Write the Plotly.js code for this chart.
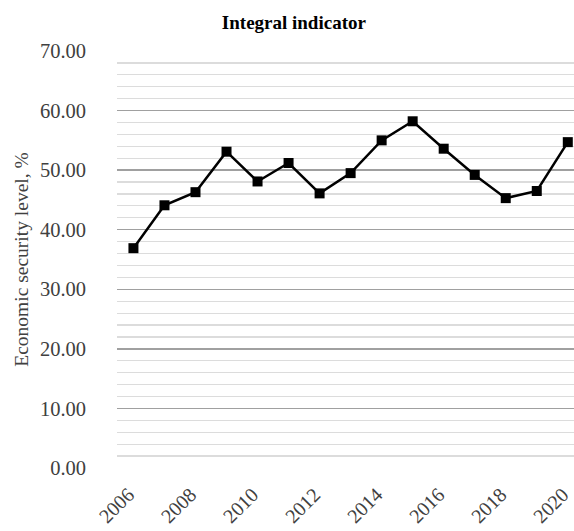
<!DOCTYPE html>
<html>
<head>
<meta charset="utf-8">
<script src="https://cdn.plot.ly/plotly-3.0.1.min.js"></script>
<style>html,body{margin:0;padding:0;background:#fff;overflow:hidden;}</style>
</head>
<body>
<div id="chart" style="width:574px;height:531px;"></div>
<script>
const years = [2006, 2007, 2008, 2009, 2010, 2011, 2012, 2013, 2014, 2015, 2016, 2017, 2018, 2019, 2020];
const integralIndicator = [36.9, 44.1, 46.3, 53.1, 48.1, 51.2, 46.1, 49.5, 55.0, 58.2, 53.6, 49.2, 45.3, 46.5, 54.7];
const xTickYears = [2006, 2008, 2010, 2012, 2014, 2016, 2018, 2020];
const xTickLabels = ["2006", "2008", "2010", "2012", "2014", "2016", "2018", "2020"];
const chartTitle = "Integral indicator";
const yTitle = "Economic security level, %";

const serif = "'Liberation Serif', 'Times New Roman', serif";

const trace = {
  x: years,
  y: integralIndicator,
  type: "scatter",
  mode: "lines+markers",
  line: {color: "#000000", width: 2.5},
  marker: {symbol: "square", size: 10, color: "#000000"},
  hoverinfo: "x+y"
};

const layout = {
  width: 574,
  height: 531,
  margin: {l: 117, r: 0, t: 51, b: 63, pad: 0},
  paper_bgcolor: "#ffffff",
  plot_bgcolor: "#ffffff",
  showlegend: false,
  title: {
    text: "<b>" + chartTitle + "</b>",
    font: {family: serif, size: 19, color: "#000000"},
    x: 0.512, xref: "container", xanchor: "center",
    y: 0.957, yref: "container", yanchor: "middle"
  },
  xaxis: {
    range: [2005.47, 2020.2],
    tickvals: xTickYears,
    ticktext: xTickLabels,
    tickangle: -45,
    showgrid: false,
    zeroline: false,
    showline: false,
    ticks: "",
    ticklabelstandoff: 10,
    ticklabelshift: -5,
    ticklabeloverflow: "allow",
    tickfont: {family: serif, size: 20, color: "#404040"},
    fixedrange: true
  },
  yaxis: {
    range: [0, 70],
    tickvals: [0, 10, 20, 30, 40, 50, 60, 70],
    tickformat: ".2f",
    showgrid: true,
    gridcolor: "#a0a0a0",
    gridwidth: 1.5,
    zeroline: false,
    showline: false,
    ticks: "",
    ticklabelstandoff: 30,
    tickfont: {family: serif, size: 20.5, color: "#404040"},
    minor: {dtick: 2, tick0: 0, showgrid: true, gridcolor: "#dcdcdc", gridwidth: 1.2},
    title: {
      text: yTitle,
      font: {family: serif, size: 19.5, color: "#404040"},
      standoff: 6
    },
    automargin: false,
    fixedrange: true
  }
};

Plotly.newPlot("chart", [trace], layout, {displayModeBar: false, staticPlot: true});
</script>
</body>
</html>
